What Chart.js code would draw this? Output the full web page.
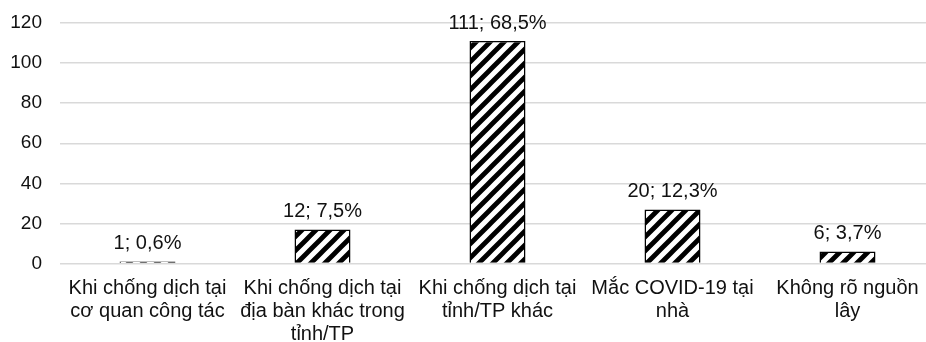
<!DOCTYPE html>
<html>
<head>
<meta charset="utf-8">
<script src="https://cdn.jsdelivr.net/npm/chart.js@4.4.1/dist/chart.umd.min.js"></script>
<style>
  html, body { margin: 0; padding: 0; background: #fff; overflow: hidden; }
  #wrap { width: 935px; height: 342px; position: relative; }
</style>
</head>
<body>
<div id="wrap"><canvas id="c"></canvas></div>
<script>
const categories = [
  ["Khi chống dịch tại", "cơ quan công tác"],
  ["Khi chống dịch tại", "địa bàn khác trong", "tỉnh/TP"],
  ["Khi chống dịch tại", "tỉnh/TP khác"],
  ["Mắc COVID-19 tại", "nhà"],
  ["Không rõ nguồn", "lây"]
];
const barValues = [1, 17, 111, 27, 6];
const dataLabels = ["1; 0,6%", "12; 7,5%", "111; 68,5%", "20; 12,3%", "6; 3,7%"];
const yTicks = [0, 20, 40, 60, 80, 100, 120];

const FONT = "'Liberation Sans', Arial, sans-serif";
const TEXT = "#111";

function makeHatch() {
  const s = 14;
  const pc = document.createElement('canvas');
  pc.width = s; pc.height = s;
  const g = pc.getContext('2d');
  g.fillStyle = '#fff';
  g.fillRect(0, 0, s, s);
  g.strokeStyle = '#000';
  g.lineWidth = 4.8;
  g.beginPath();
  g.moveTo(-2, s + 2); g.lineTo(s + 2, -2);
  g.moveTo(-s / 2 - 2, s / 2 + 2); g.lineTo(s / 2 + 2, -s / 2 - 2);
  g.moveTo(s / 2 - 2, s * 1.5 + 2); g.lineTo(s * 1.5 + 2, s / 2 - 2);
  g.stroke();
  return g.createPattern(pc, 'repeat');
}

const labelPlugin = {
  id: 'barLabels',
  afterDatasetsDraw(chart) {
    const ctx = chart.ctx;
    const meta = chart.getDatasetMeta(0);
    ctx.save();
    ctx.font = "20px " + FONT;
    ctx.fillStyle = TEXT;
    ctx.textAlign = 'center';
    ctx.textBaseline = 'alphabetic';
    meta.data.forEach((bar, i) => {
      ctx.fillText(dataLabels[i], bar.x, bar.y - 12);
    });
    ctx.restore();
  }
};

const ctx = document.getElementById('c').getContext('2d');
new Chart(ctx, {
  type: 'bar',
  data: {
    labels: categories,
    datasets: [{
      data: barValues,
      backgroundColor: makeHatch(),
      borderColor: '#000',
      borderWidth: 1.5,
      barPercentage: 0.32,
      categoryPercentage: 1.0
    }]
  },
  options: {
    responsive: true,
    maintainAspectRatio: false,
    animation: false,
    devicePixelRatio: 1,
    layout: { padding: { top: 23, right: 0, left: 0, bottom: 0 } },
    plugins: { legend: { display: false }, tooltip: { enabled: false } },
    scales: {
      x: {
        grid: { display: false, drawTicks: false },
        border: { display: false },
        ticks: {
          color: TEXT,
          font: { family: FONT, size: 20, lineHeight: 1.13 },
          padding: 14,
          maxRotation: 0,
          minRotation: 0,
          autoSkip: false
        },
        afterFit(scale) { scale.height = 78.5; scale.paddingLeft = 0; scale.paddingRight = 0; }
      },
      y: {
        min: 0,
        max: 120,
        afterBuildTicks(scale) { scale.ticks = yTicks.map(v => ({ value: v })); },
        grid: { color: '#d9d9d9', lineWidth: 1.5, drawTicks: false },
        border: { display: false },
        ticks: {
          color: TEXT,
          font: { family: FONT, size: 19 },
          padding: 18
        },
        afterFit(scale) { scale.width = 60; scale.paddingTop = 0; scale.paddingBottom = 0; }
      }
    }
  },
  plugins: [labelPlugin]
});
</script>
</body>
</html>
